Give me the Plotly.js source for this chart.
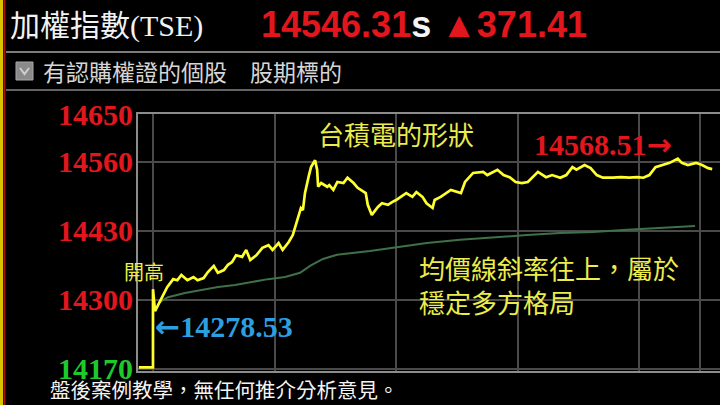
<!DOCTYPE html>
<html><head><meta charset="utf-8">
<script src="https://cdn.plot.ly/plotly-3.0.1.min.js"></script>
<style>html,body{margin:0;padding:0;background:#000;overflow:hidden;}#chart{width:720px;height:405px;}</style>
</head><body><div id="chart"></div>
<script>
// ---- data (minutes after 09:00, index points) ----
const priceMinutes = [-7,0,0,1,2.5,4,5,7,10,12,14,17,20,22,25,27,30,32,35,37,39,41,44,46,48,51,54,57,59,62,64,67,69,71,73,74,75,77,78,80,81,81.5,83,86,87,89,91,94,96,99,101,105,106,108,111,113,116,118,120,123,125,128,130,133,135,138,139,142,147,152,154,158,163,165,170,173,176,179,182,185,187,190,194,197,201,204,207,209,213,216,219,222,227,231,235,239,242,245,248,251,255,259,261,264,268,271,274,276];
const priceValues = [14173,14173,14320,14278.53,14290,14302,14309,14324,14339,14337,14347,14337,14343,14337,14341,14352,14364,14351,14356,14366,14371,14384,14381,14394,14375,14384,14398,14403,14394,14407,14394,14409,14422,14447,14473,14469,14501,14535,14550,14563,14545,14513,14520,14513,14516,14507,14522,14520,14530,14520,14511,14501,14479,14460,14475,14482,14479,14484,14488,14496,14501,14494,14503,14494,14482,14473,14488,14494,14507,14501,14522,14539,14541,14535,14545,14535,14531,14522,14520,14522,14530,14541,14531,14535,14530,14535,14550,14545,14554,14548,14535,14530,14530,14531,14530,14531,14530,14535,14550,14554,14558,14566,14558,14554,14558,14554,14548,14546.31];
const avgMinutes = [3.5,7.4,15.8,24.2,32.1,40.5,48.9,56.8,65.2,72.6,77.5,83.9,90.8,98.2,107.1,118.5,135.2,151.5,167.8,184.6,200.9,217.2,234.0,250.2,267.5];
const avgValues = [14296,14305,14313,14319,14324,14328,14334,14339,14343,14351,14364,14377,14385,14388,14392,14398,14407,14413,14418,14422,14426,14428,14432,14435,14439];
const yTickValues = [14170, 14300, 14430, 14560, 14650];
const yTickLabels = ['14170', '14300', '14430', '14560', '14650'];
const hourMarks = [0, 60, 120, 180, 240, 270];
const headerTitle = '加權指數(TSE)';
const lastPrice = '14546.31';
const change = '▲371.41';
const filterText = '有認購權證的個股　股期標的';
const highValue = '14568.51';
const lowValue = '14278.53';
const noteShape = '台積電的形狀';
const noteOpen = '開高';
const noteAvg1 = '均價線斜率往上，屬於';
const noteAvg2 = '穩定多方格局';
const caption = '盤後案例教學，無任何推介分析意見。';

// ---- pixel helpers for paper-positioned decorations ----
const L = 138, W = 582, T = 114, H = 257;
const PX = x => (x - L) / W;
const PY = y => (T + H - y) / H;

const RED = '#e3161e', GREEN = '#1fc92b', YEL = '#ecec4a', BLUE = '#2d9fe0';
const SERIF = 'Liberation Serif, "Noto Sans CJK TC", serif';
const CJK = '"Noto Sans CJK TC", sans-serif';
const ARROW = '<span style="font-family:\'DejaVu Sans\';font-weight:bold">';

const tickText = yTickLabels.map((t, i) => i === 0 ? '<span style="color:' + GREEN + '">' + t + '</span>' : t);

const traces = [
  {x: avgMinutes, y: avgValues, type: 'scatter', mode: 'lines',
   line: {color: '#3f7048', width: 2}, hoverinfo: 'skip'},
  {x: priceMinutes, y: priceValues, type: 'scatter', mode: 'lines',
   line: {color: '#ffff2e', width: 2.7}, hoverinfo: 'skip'}
];

function ann(text, x, y, size, color, family, extra) {
  return Object.assign({text: text, xref: 'paper', yref: 'paper', x: PX(x), y: PY(y),
    xanchor: 'left', yanchor: 'middle', showarrow: false, align: 'left',
    font: {size: size, color: color, family: family}}, extra || {});
}

const layout = {
  width: 720, height: 405,
  margin: {l: L, r: 720 - L - W, t: T, b: 405 - T - H, pad: 0},
  paper_bgcolor: '#000', plot_bgcolor: '#000',
  showlegend: false,
  title: {text: headerTitle, xref: 'container', yref: 'container', x: 10 / 720, xanchor: 'left',
          y: 1 - 25 / 405, yanchor: 'middle', font: {size: 30, color: '#f2f2f2', family: SERIF}},
  xaxis: {range: [-7.4, 279.85], tickvals: hourMarks, showticklabels: false, ticks: '',
          showgrid: true, gridcolor: '#4a4a4a', gridwidth: 2, zeroline: false,
          showline: true, linecolor: '#8c8c8c', linewidth: 2, mirror: true, fixedrange: true},
  yaxis: {range: [14166, 14650], tickvals: yTickValues, ticktext: tickText, ticks: '',
          showgrid: true, gridcolor: '#4a4a4a', gridwidth: 2, zeroline: false,
          showline: true, linecolor: '#8c8c8c', linewidth: 2, mirror: false,
          tickfont: {size: 30, color: RED, family: 'Liberation Serif, serif', weight: 'bold'},
          ticklabelstandoff: -3, fixedrange: true},
  shapes: [
    {type: 'rect', xref: 'paper', yref: 'paper', x0: PX(0), x1: PX(3), y0: PY(405), y1: PY(0), fillcolor: '#d9c400', line: {width: 0}, layer: 'above'},
    {type: 'rect', xref: 'paper', yref: 'paper', x0: PX(3.5), x1: PX(5.5), y0: PY(405), y1: PY(0), fillcolor: '#a51212', line: {width: 0}, layer: 'above'},
    {type: 'line', xref: 'paper', yref: 'paper', x0: PX(6), x1: PX(720), y0: PY(52), y1: PY(52), line: {color: '#7c7c7c', width: 2}},
    {type: 'line', xref: 'paper', yref: 'paper', x0: PX(6), x1: PX(720), y0: PY(90), y1: PY(90), line: {color: '#626262', width: 2}},
    {type: 'rect', xref: 'paper', yref: 'paper', x0: PX(16), x1: PX(33), y0: PY(80), y1: PY(62), fillcolor: '#8a8a8a', line: {color: '#a8a8a8', width: 1}},
    {type: 'path', xref: 'paper', yref: 'paper',
     path: 'M ' + PX(20) + ' ' + PY(68) + ' L ' + PX(24.5) + ' ' + PY(74) + ' L ' + PX(29) + ' ' + PY(68),
     line: {color: '#d0d0d0', width: 2}}
  ],
  annotations: [
    ann('<span style="color:' + RED + '">' + lastPrice + '</span><span style="color:#f4f4f4">s</span> <span style="color:' + RED + '">' + change + '</span>',
        259, 25, 36, RED, 'Liberation Sans, Arial, sans-serif', {font: {size: 36, color: RED, family: 'Liberation Sans, Arial, sans-serif', weight: 'bold'}}),
    ann(filterText, 41, 71, 23, '#d6d6d6', CJK),
    ann(noteShape, 316, 133, 26, YEL, CJK),
    ann(highValue + ARROW + '→</span>', 532, 144, 30, RED, SERIF, {font: {size: 30, color: RED, family: SERIF, weight: 'bold'}}),
    ann(noteOpen, 122, 271, 20, YEL, CJK),
    ann(ARROW + '←</span>' + lowValue, 153, 326, 30, BLUE, SERIF, {font: {size: 30, color: BLUE, family: SERIF, weight: 'bold'}}),
    ann(noteAvg1 + '<br>' + noteAvg2, 417, 284, 26, YEL, CJK),
    ann(caption, 48, 389, 20.5, '#f4f4f4', CJK)
  ]
};

Plotly.newPlot('chart', traces, layout, {staticPlot: true, displayModeBar: false});
</script>
</body></html>
